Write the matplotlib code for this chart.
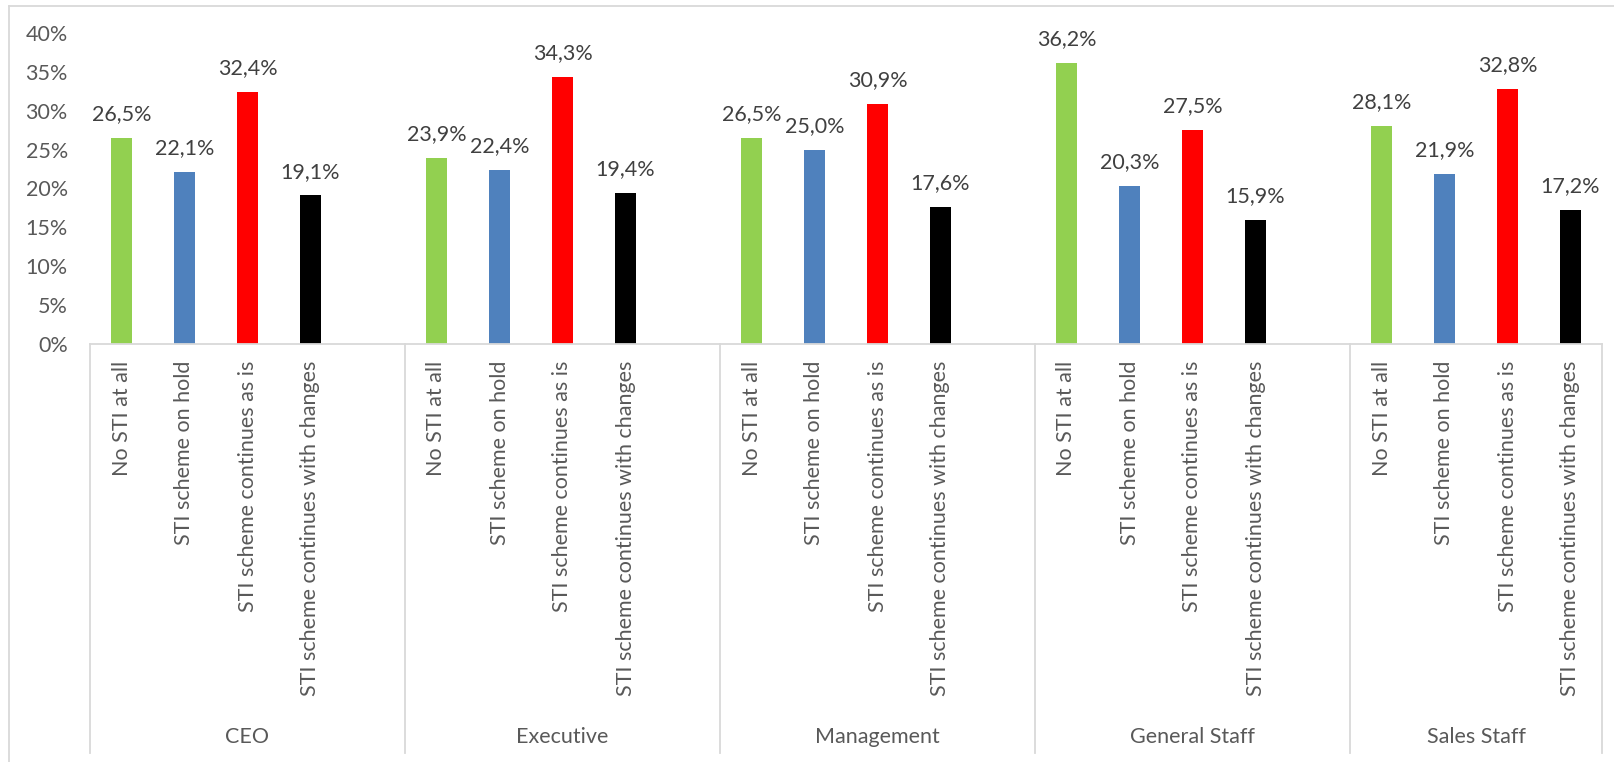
import matplotlib
matplotlib.use("Agg")
import matplotlib.pyplot as plt
from matplotlib.lines import Line2D
from matplotlib.transforms import blended_transform_factory

plt.rcParams['font.family'] = ['Lato', 'DejaVu Sans']

groups = ['CEO', 'Executive', 'Management', 'General Staff', 'Sales Staff']
answers = ['No STI at all', 'STI scheme on hold', 'STI scheme continues as is',
           'STI scheme continues with changes']
colors = ['#92d050', '#4f81bd', '#ff0000', '#000000']

# share of answers per group, in %
no_sti = [26.5, 23.9, 26.5, 36.2, 28.1]
on_hold = [22.1, 22.4, 25.0, 20.3, 21.9]
as_is = [32.4, 34.3, 30.9, 27.5, 32.8]
with_changes = [19.1, 19.4, 17.6, 15.9, 17.2]
series = [no_sti, on_hold, as_is, with_changes]

W, H = 1614, 762
FS = 15.5
fig = plt.figure(figsize=(W / 100, H / 100), dpi=100)
ax = fig.add_axes([90 / W, 418 / H, 1512 / W, 311 / H])

# each group takes 5 slots: four bars and one empty slot (last group has no gap)
slots = 5
n_slots = slots * len(groups) - 1
for j, vals in enumerate(series):
    xs = [g * slots + j + 0.5 for g in range(len(groups))]
    bars = ax.bar(xs, vals, width=0.32, color=colors[j], zorder=2)
    ax.bar_label(bars, labels=[f"{v:.1f}%".replace('.', ',') for v in vals],
                 padding=10, fontsize=FS, color='#404040')

ax.set_xlim(0, n_slots)
ax.set_ylim(0, 40)
ax.set_yticks(range(0, 41, 5))
ax.set_yticklabels([f"{t}%" for t in range(0, 41, 5)], fontsize=FS, color='#595959')

ticks = [g * slots + j + 0.5 for g in range(len(groups)) for j in range(4)]
ax.set_xticks(ticks)
ax.set_xticklabels(answers * len(groups), rotation=90, fontsize=FS,
                   color='#595959', va='top')
ax.tick_params(axis='x', length=0, pad=12)
ax.tick_params(axis='y', length=0, pad=16)

for side in ['top', 'right', 'left']:
    ax.spines[side].set_visible(False)
ax.spines['bottom'].set_color('#d9d9d9')
ax.spines['bottom'].set_linewidth(1.3)

# group separators and group names below the category labels
trans = blended_transform_factory(ax.transData, ax.transAxes)
for x in [0, 5, 10, 15, 20, n_slots]:
    ax.add_line(Line2D([x, x], [0, -409 / 311], transform=trans, color='#d9d9d9',
                       lw=1.3, clip_on=False))
for g, name in enumerate(groups):
    left = g * slots
    right = min(left + slots, n_slots)
    ax.text((left + right) / 2, -393 / 311, name, transform=trans, ha='center',
            va='center', fontsize=FS, color='#595959')

# chart frame
fig.add_artist(Line2D([9 / W, 9 / W], [0, 1 - 6 / H], color='#d9d9d9', lw=1.3))
fig.add_artist(Line2D([9 / W, 1], [1 - 6 / H, 1 - 6 / H], color='#d9d9d9', lw=1.3))

fig.savefig('out.png', dpi=100)
